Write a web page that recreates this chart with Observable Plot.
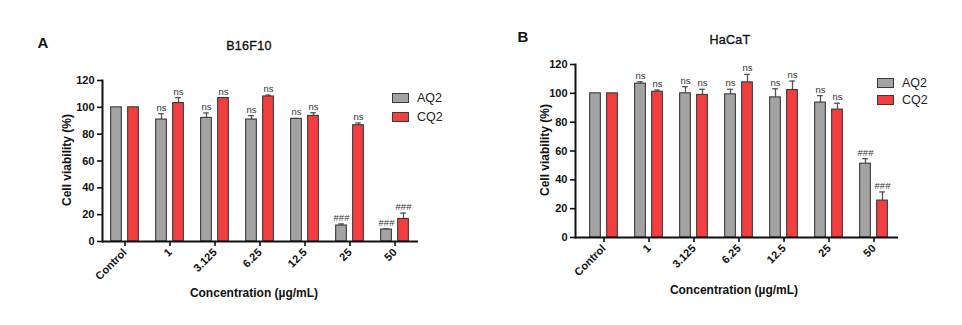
<!DOCTYPE html>
<html>
<head>
<meta charset="utf-8">
<script src="https://cdn.jsdelivr.net/npm/d3@7"></script>
<script src="https://cdn.jsdelivr.net/npm/@observablehq/plot@0.6"></script>
<style>
  html, body { margin: 0; padding: 0; background: #fff; }
  #root { position: relative; width: 962px; height: 325px; font-family: "Liberation Sans", Arial, sans-serif; color: #111; overflow: hidden; }
  .panel { position: absolute; top: 0; }
  .lbl { position: absolute; white-space: nowrap; transform: translate(-50%, -50%); }
  .leg { position: absolute; display: flex; align-items: center; font-size: 12.5px; white-space: nowrap; color: #222; }
  .sw { width: 15px; height: 8px; border: 1px solid #3a3a3a; margin-right: 8px; }
</style>
</head>
<body>
<div id="root"></div>
<script>
// ---- data ----
const categories = ["Control", "1", "3.125", "6.25", "12.5", "25", "50"];
const series = ["AQ2", "CQ2"];
const yTicks = [0, 20, 40, 60, 80, 100, 120];

// Panel A: B16F10
const b16AQ2 = [100, 90.9, 92.1, 90.9, 91.4, 11.9, 8.9];
const b16AQ2Err = [0, 4.4, 3.7, 2.9, 0.3, 1.2, 0.5];
const b16CQ2 = [100, 103.2, 106.9, 108.1, 93.6, 86.7, 16.8];
const b16CQ2Err = [0, 4.0, 0.3, 1.0, 2.4, 1.7, 4.4];
const b16AQ2Sig = ["", "ns", "ns", "ns", "ns", "###", "###"];
const b16CQ2Sig = ["", "ns", "ns", "ns", "ns", "ns", "###"];

// Panel B: HaCaT
const hacatAQ2 = [100, 106.7, 100, 99.3, 97.2, 93.6, 51.2];
const hacatAQ2Err = [0, 1.3, 4.6, 3.5, 6.0, 4.8, 3.5];
const hacatCQ2 = [100, 101.1, 98.9, 107.6, 102.3, 88.7, 25.6];
const hacatCQ2Err = [0, 1.2, 3.9, 5.5, 6.2, 4.4, 6.0];
const hacatAQ2Sig = ["", "ns", "ns", "ns", "ns", "ns", "###"];
const hacatCQ2Sig = ["", "ns", "ns", "ns", "ns", "ns", "###"];

const colors = {AQ2: "#a3a3a3", CQ2: "#f23e3e"};
const edge = "#3a3a3a";

function panel(cfg) {
  const rows = [];
  categories.forEach((c, i) => {
    rows.push({cat: c, series: "AQ2", v: cfg.aq[i], e: cfg.aqErr[i], sig: cfg.aqSig[i]});
    rows.push({cat: c, series: "CQ2", v: cfg.cq[i], e: cfg.cqErr[i], sig: cfg.cqSig[i]});
  });
  const bw = (cfg.xRange[1] - cfg.xRange[0]) / categories.length;
  const barW = 11, gap = 6, capW = 6;
  const off = (barW + gap) / 2;
  const marks = [];
  for (const s of series) {
    const dx = s === "AQ2" ? -off : off;
    const data = rows.filter(d => d.series === s);
    const withErr = data.filter(d => d.e > 0);
    marks.push(
      Plot.ruleX(withErr, {x: "cat", y1: "v", y2: d => d.v + d.e, dx, stroke: "#555", strokeWidth: 1.3}),
      Plot.tickY(withErr, {x: "cat", y: d => d.v + d.e, dx, stroke: "#555", strokeWidth: 1.3,
        insetLeft: (bw - capW) / 2, insetRight: (bw - capW) / 2}),
      Plot.barY(data, {x: "cat", y: "v", dx, fill: colors[s], stroke: edge, strokeWidth: 1.1,
        insetLeft: (bw - barW) / 2, insetRight: (bw - barW) / 2}),
      Plot.text(data.filter(d => d.sig), {x: "cat", y: d => d.v + d.e, text: "sig", dx, dy: -3,
        lineAnchor: "bottom", fontSize: 9.5, fill: "#333"})
    );
  }
  return Plot.plot({
    width: 481,
    height: 325,
    marginLeft: cfg.ml,
    marginRight: cfg.mr,
    marginTop: cfg.mt,
    marginBottom: cfg.mb,
    style: {fontFamily: "'Liberation Sans', Arial, sans-serif", color: "#111", background: "transparent", overflow: "visible"},
    x: {domain: categories, range: cfg.xRange, padding: 0},
    y: {domain: [0, 120]},
    marks: [
      ...marks,
      Plot.ruleY([0], {stroke: "#111", strokeWidth: 2}),
      Plot.frame({anchor: "left", stroke: "#111", strokeWidth: 2}),
      Plot.axisY({ticks: yTicks, tickSize: 5, tickPadding: 3, strokeWidth: 1.6, label: null, fontSize: 11, fontWeight: "bold"}),
      Plot.axisX({tickSize: 5, tickRotate: -45, tickPadding: 4, strokeWidth: 1.6, label: null, fontSize: 11, fontWeight: "bold"})
    ]
  });
}

const root = document.getElementById("root");

function addPanel(left, cfg, txt) {
  const wrap = document.createElement("div");
  wrap.className = "panel";
  wrap.style.left = left + "px";
  wrap.appendChild(panel(cfg));
  root.appendChild(wrap);
  const add = (html, x, y, style) => {
    const d = document.createElement("div");
    d.className = "lbl";
    d.innerHTML = html;
    d.style.left = (left + x) + "px";
    d.style.top = y + "px";
    Object.assign(d.style, style || {});
    root.appendChild(d);
  };
  add(txt.letter, txt.letterX, txt.letterY, {fontSize: "15px", fontWeight: "bold"});
  add(txt.title, txt.titleX, txt.titleY, {fontSize: "12.5px", webkitTextStroke: "0.35px #111", letterSpacing: "0.3px"});
  add("Cell viability (%)", txt.ylabX, txt.ylabY, {fontSize: "12px", fontWeight: "bold", transform: "translate(-50%, -50%) rotate(-90deg)"});
  add("Concentration (µg/mL)", txt.xlabX, txt.xlabY, {fontSize: "12px", fontWeight: "bold"});
  series.forEach((s, i) => {
    const l = document.createElement("div");
    l.className = "leg";
    l.style.left = (left + txt.legX) + "px";
    l.style.top = (txt.legY + i * txt.legStep - 7) + "px";
    l.innerHTML = `<div class="sw" style="background:${colors[s]}"></div><span>${s}</span>`;
    root.appendChild(l);
  });
}

addPanel(0, {
  aq: b16AQ2, aqErr: b16AQ2Err, cq: b16CQ2, cqErr: b16CQ2Err, aqSig: b16AQ2Sig, cqSig: b16CQ2Sig,
  ml: 102, mr: 63, mt: 80, mb: 84, xRange: [101, 418]
}, {letter: "A", letterX: 43, letterY: 42, title: "B16F10", titleX: 249, titleY: 46,
    ylabX: 67, ylabY: 160, xlabX: 254, xlabY: 293, legX: 392, legY: 98, legStep: 19});

addPanel(481, {
  aq: hacatAQ2, aqErr: hacatAQ2Err, cq: hacatCQ2, cqErr: hacatCQ2Err, aqSig: hacatAQ2Sig, cqSig: hacatCQ2Sig,
  ml: 94, mr: 64, mt: 64, mb: 88, xRange: [99, 416]
}, {letter: "B", letterX: 42, letterY: 36, title: "HaCaT", titleX: 249, titleY: 40,
    ylabX: 64, ylabY: 150, xlabX: 253, xlabY: 290, legX: 396, legY: 83, legStep: 17});
</script>
</body>
</html>
